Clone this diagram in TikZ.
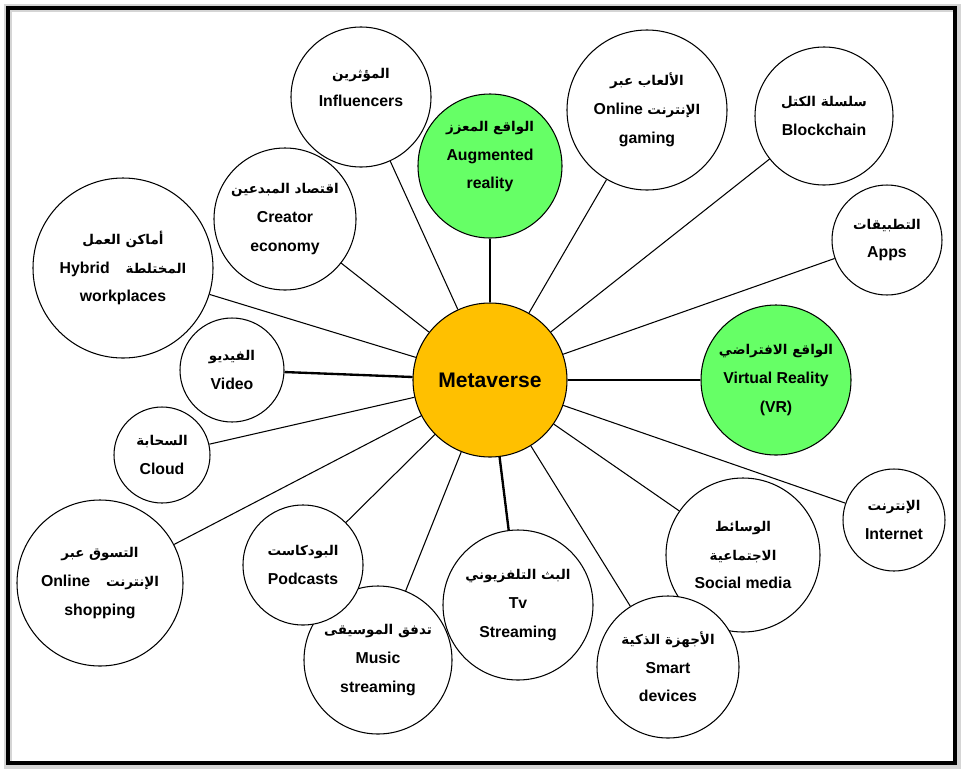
\documentclass[tikz,border=0pt]{standalone}
\usepackage{fontspec}
\setmainfont{Liberation Sans}
\newfontfamily\arabicfont[Script=Arabic]{DejaVu Sans}
\TeXXeTstate=1
\usepackage{xcolor}
\usepackage{tikz}
\usetikzlibrary{positioning}
\definecolor{mgreen}{RGB}{102,255,102}
\definecolor{mgold}{RGB}{255,192,0}
\definecolor{mshadow}{RGB}{150,150,150}
\newcommand{\artxt}[1]{{\arabicfont\fontsize{11.5}{13}\selectfont\beginR #1\endR}}

\begin{document}
\begin{tikzpicture}[x=0.03cm,y=-0.03cm,
  bub/.style={circle,draw=black,line width=0.9pt,fill=white,inner sep=0pt,align=center,
    minimum size=#1,font=\bfseries\fontsize{13.5}{24.5}\selectfont},
  hub/.style={bub=#1,fill=mgold,font=\bfseries\fontsize{18}{22}\selectfont},
  vrs/.style={bub=#1,fill=mgreen},
  link/.style={line width=0.9pt},
  blink/.style={line width=2pt}]
\useasboundingbox (0,0) rectangle (967,773);
\draw[mshadow!40,line width=7pt] (8,8) rectangle (957,765);
\draw[line width=2.8pt] (8,8) rectangle (955,763);
\node[hub=4.62cm] (meta) at (490,380) {Metaverse};
\node[bub=4.2cm]  (infl) at (361,97)  {\artxt{المؤثرين}\\Influencers\\[-8pt]};
\node[vrs=4.32cm] (ar)   at (490,166) {\artxt{الواقع المعزز}\\Augmented\\reality\\[-6pt]};
\node[bub=4.8cm]  (game) at (647,110) {\artxt{الألعاب عبر}\\Online \artxt{الإنترنت}\\gaming};
\node[bub=4.14cm] (blck) at (824,116) {\artxt{سلسلة الكتل}\\Blockchain};
\node[bub=3.3cm]  (apps) at (887,240) {\artxt{التطبيقات}\\Apps};
\node[vrs=4.5cm]  (vr)   at (776,380) {\artxt{الواقع الافتراضي}\\Virtual Reality\\(VR)};
\node[bub=3.06cm] (inet) at (894,520) {\artxt{الإنترنت}\\Internet};
\node[bub=4.62cm] (soc)  at (743,555) {\artxt{الوسائط}\\\artxt{الاجتماعية}\\Social media};
\node[bub=4.26cm] (smrt) at (668,667) {\artxt{الأجهزة الذكية}\\Smart\\devices};
\node[bub=4.5cm]  (tv)   at (518,605) {\artxt{البث التلفزيوني}\\Tv\\Streaming};
\node[bub=4.44cm] (mus)  at (378,660) {\artxt{تدفق الموسيقى}\\Music\\streaming};
\node[bub=3.6cm]  (pod)  at (303,565) {\artxt{البودكاست}\\Podcasts};
\node[bub=4.98cm] (shop) at (100,583) {\artxt{التسوق عبر}\\Online\quad\artxt{الإنترنت}\\shopping};
\node[bub=2.88cm] (cld)  at (162,455) {\artxt{السحابة}\\Cloud};
\node[bub=3.12cm] (vid)  at (232,370) {\artxt{الفيديو}\\Video};
\node[bub=5.4cm]  (hyb)  at (123,268) {\artxt{أماكن العمل}\\Hybrid\quad\artxt{المختلطة}\\workplaces};
\node[bub=4.26cm] (crea) at (285,219) {\artxt{اقتصاد المبدعين}\\Creator\\economy};
\draw[blink] (meta)--(ar); \draw[blink] (meta)--(vr); \draw[blink] (meta)--(vid); \draw[blink] (meta)--(tv);
\draw[link] (meta)--(infl); \draw[link] (meta)--(game); \draw[link] (meta)--(blck); \draw[link] (meta)--(apps);
\draw[link] (meta)--(inet); \draw[link] (meta)--(soc); \draw[link] (meta)--(smrt); \draw[link] (meta)--(mus);
\draw[link] (meta)--(pod); \draw[link] (meta)--(shop); \draw[link] (meta)--(cld); \draw[link] (meta)--(hyb);
\draw[link] (meta)--(crea);
\end{tikzpicture}
\end{document}
